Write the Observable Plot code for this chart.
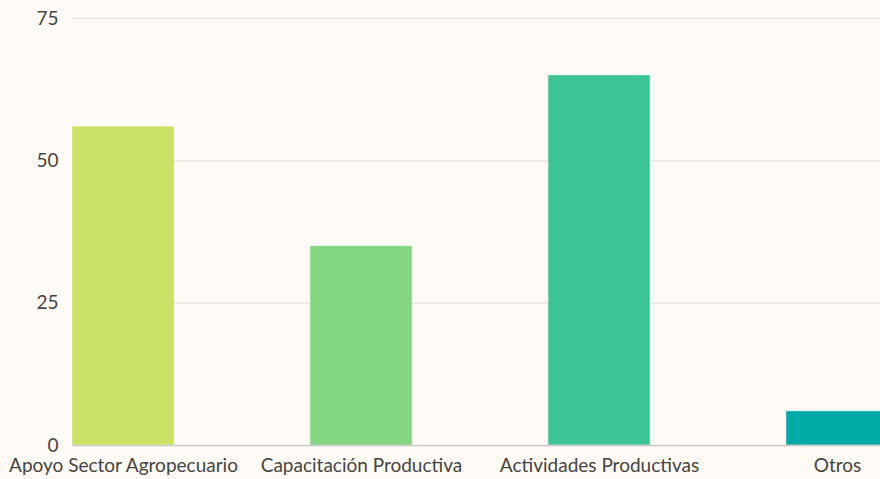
<!DOCTYPE html>
<html>
<head>
<meta charset="utf-8">
<script src="https://cdn.jsdelivr.net/npm/d3@7"></script>
<script src="https://cdn.jsdelivr.net/npm/@observablehq/plot@0.6"></script>
<style>
  html, body { margin: 0; padding: 0; background: #fffaf5; }
  #chart svg { display: block; }
</style>
</head>
<body>
<div id="chart"></div>
<script>
const categories = ["Apoyo Sector Agropecuario", "Capacitación Productiva", "Actividades Productivas", "Otros"];
const values = [56, 35, 65, 6];
const colors = ["#c9e265", "#82d67f", "#3dc496", "#00aaa6"];
const yTicks = [0, 25, 50, 75];

const data = categories.map((c, i) => ({category: c, value: values[i], color: colors[i]}));

const chart = Plot.plot({
  width: 880,
  height: 479,
  marginLeft: 72,
  marginRight: 0,
  marginTop: 18,
  marginBottom: 34,
  style: {background: "#fffaf5", fontFamily: "Lato, sans-serif", fontSize: "19px", color: "#444"},
  x: {domain: categories, range: [72, 888], paddingInner: 0.5714, paddingOuter: 0, align: 0.5, round: false, label: null},
  y: {domain: [0, 75], label: null},
  marks: [
    Plot.ruleY(yTicks.filter(d => d > 0), {stroke: "#e2e2e2", strokeWidth: 1.2, strokeOpacity: 1}),
    Plot.barY(data, {x: "category", y: "value", fill: "color", stroke: "#ffffff", strokeOpacity: 0.4, strokeWidth: 1}),
    Plot.ruleY([0], {stroke: "#c8c8c8", strokeWidth: 1.5}),
    Plot.axisY({ticks: yTicks, tickSize: 0, tickPadding: 14, fontSize: 19, fill: "#444"}),
    Plot.axisX({tickSize: 0, tickPadding: 13, fontSize: 19, fill: "#444"})
  ]
});
document.getElementById("chart").appendChild(chart);
</script>
</body>
</html>
